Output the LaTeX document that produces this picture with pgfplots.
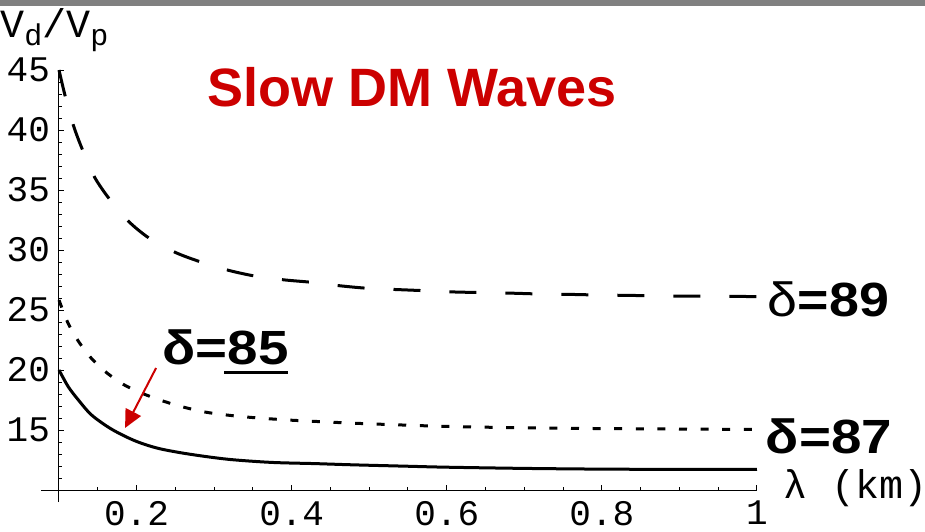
\documentclass[border=0pt]{standalone}
\usepackage{pgfplots}
\pgfplotsset{compat=1.18}
\usepackage{fontspec}
\setmainfont{Liberation Sans}
\newfontfamily\monofont{Liberation Mono}
\usetikzlibrary{arrows.meta}
\definecolor{titlered}{RGB}{204,0,0}
\definecolor{bargray}{RGB}{128,128,128}

% V_d/V_p against lambda, three values of delta
\pgfplotstableread{
x y
0.100 45.0
0.1077 42.9
0.1185 40.4
0.130 38.4
0.1456 36.1
0.165 34.25
0.1895 32.4
0.216 31.0
0.250 29.8
0.283 29.0
0.319 28.3
0.355 27.8
0.392 27.5
0.427 27.3
0.465 27.0
0.500 26.8
0.537 26.7
0.575 26.6
0.611 26.5
0.648 26.45
0.685 26.4
0.722 26.33
0.759 26.3
0.795 26.25
0.833 26.22
0.870 26.18
0.906 26.16
0.950 26.14
1.000 26.12
}\dnine

\pgfplotstableread{
x y
0.100 25.83
0.111 24.0
0.124 22.5
0.140 21.1
0.159 19.9
0.183 18.8
0.2075 18.05
0.2325 17.45
0.258 16.95
0.288 16.5
0.316 16.25
0.342 16.08
0.368 15.95
0.396 15.83
0.426 15.73
0.452 15.65
0.478 15.57
0.550 15.4
0.600 15.3
0.700 15.18
0.800 15.12
0.900 15.08
1.000 15.05
}\dseven

\pgfplotstableread{
x y
0.100 20.0
0.112 18.6
0.125 17.5
0.142 16.25
0.168 15.06
0.198 14.1
0.228 13.47
0.267 13.0
0.318 12.56
0.374 12.3
0.430 12.2
0.478 12.1
0.550 11.98
0.600 11.9
0.700 11.8
0.800 11.74
0.900 11.72
1.000 11.72
}\dfive

\begin{document}
\begin{tikzpicture}
\useasboundingbox (-29.5pt,-20.5pt) rectangle (433pt,245pt);
\fill[bargray] (-29.5pt,242pt) rectangle (433pt,245pt);
\begin{axis}[
  at={(0,0)}, anchor=south west,
  scale only axis, width=349pt, height=210pt,
  xmin=0.1, xmax=1, ymin=10, ymax=45,
  axis lines=left,
  axis line style={-, line width=0.5pt},
  clip=false,
  tick align=inside,
  xtick={0.2,0.4,0.6,0.8,1},
  minor xtick={0.15,0.25,0.3,0.35,0.45,0.5,0.55,0.65,0.7,0.75,0.85,0.9,0.95},
  ytick={10,15,20,25,30,35,40,45},
  yticklabels={,15,20,25,30,35,40,45},
  minor ytick={11,12,13,14,16,17,18,19,21,22,23,24,26,27,28,29,31,32,33,34,36,37,38,39,41,42,43,44},
  major tick length=2.5pt, minor tick length=1.5pt,
  tick style={black, line width=0.5pt},
  /pgf/number format/assume math mode=true,
  ticklabel style={font=\monofont\fontsize{18}{18}\selectfont},
  xticklabel style={yshift=-2pt},
  yticklabel style={xshift=-1pt},
]
\addplot[black, line width=1.5pt, smooth, dash pattern=on 13.5pt off 14.5pt] table {\dnine};
\addplot[black, line width=1.5pt, smooth, dash pattern=on 4pt off 6.8pt] table {\dseven};
\addplot[black, line width=1.5pt, smooth] table {\dfive};

% axis lines run a little past the origin
\draw[line width=0.5pt] (axis cs:0.0774,10) -- (axis cs:0.1,10);
\draw[line width=0.5pt] (axis cs:0.1,9) -- (axis cs:0.1,10);

\node[anchor=base west, inner sep=0, font=\monofont\fontsize{20}{20}\selectfont]
  at (axis cs:0.0239,47.67)
  {V\raisebox{-0.35ex}{\fontsize{15}{15}\selectfont d}/V\raisebox{-0.35ex}{\fontsize{15}{15}\selectfont p}};
\node[anchor=base west, inner sep=0, font=\monofont\fontsize{20}{20}\selectfont]
  at (axis cs:1.0342,9.33) {λ (km)};

\node[anchor=base, inner sep=0, text=titlered, font=\bfseries\fontsize{27}{27}\selectfont]
  at (axis cs:0.5555,41.92) {Slow DM Waves};

\node[anchor=base west, inner sep=0, font=\bfseries\fontsize{24}{24}\selectfont]
  at (axis cs:1.0135,24.42) {\scalebox{1.12}[1]{{\mdseries δ}=89}};
\node[anchor=base west, inner sep=0, font=\bfseries\fontsize{24}{24}\selectfont]
  at (axis cs:1.011,13.08) {\scalebox{1.14}[1]{δ=87}};
\node[anchor=base west, inner sep=0, font=\bfseries\fontsize{24}{24}\selectfont]
  at (axis cs:0.2329,20.42) {\scalebox{1.14}[1]{δ=85}};
\draw[line width=1.5pt] (axis cs:0.3129,19.83) -- (axis cs:0.3955,19.83);

\draw[titlered, line width=1pt, -{Triangle[length=9pt,width=8.5pt]}]
  (axis cs:0.2252,20.17) -- (axis cs:0.1852,15.17);
\end{axis}
\end{tikzpicture}
\end{document}
